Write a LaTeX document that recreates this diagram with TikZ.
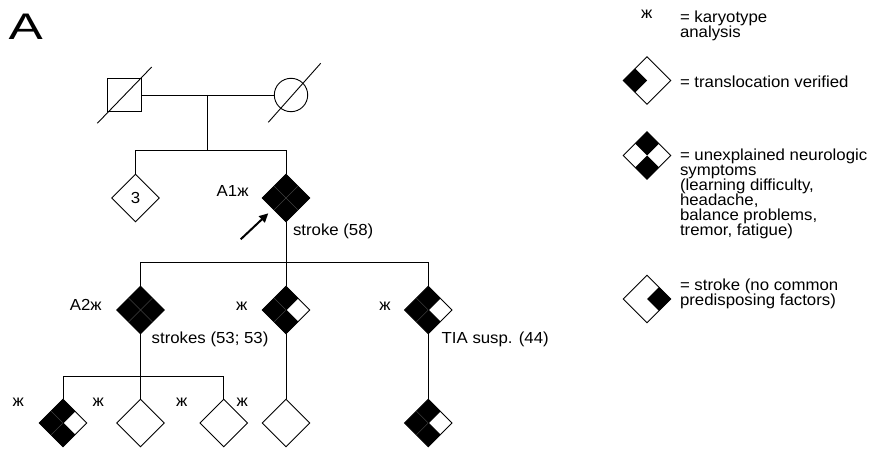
\documentclass[tikz,border=0pt]{standalone}
\usepackage{fontspec}
\setmainfont{Liberation Sans}[FakeStretch=1.05]
\usepackage{graphicx}
\usetikzlibrary{shapes.geometric,arrows.meta}
\newcommand\ptext{\fontsize{16}{15}\selectfont}
\newcommand\pqT[1]{\fill (#1.north) -- (#1.north east) -- (#1.center) -- (#1.north west) -- cycle;}
\newcommand\pqR[1]{\fill (#1.east) -- (#1.south east) -- (#1.center) -- (#1.north east) -- cycle;}
\newcommand\pqB[1]{\fill (#1.south) -- (#1.south west) -- (#1.center) -- (#1.south east) -- cycle;}
\newcommand\pqL[1]{\fill (#1.west) -- (#1.north west) -- (#1.center) -- (#1.south west) -- cycle;}
\newcommand\pqX[1]{\draw[divider] (#1.north west) -- (#1.south east) (#1.north east) -- (#1.south west);}
\newcommand\pqW[1]{\draw[pline] (#1.north east) -- (#1.center) -- (#1.south east);}
\newcommand\pqTBL[1]{\pqT{#1}\pqB{#1}\pqL{#1}\pqX{#1}\pqW{#1}}
\newcommand\pqAll[1]{\pqT{#1}\pqB{#1}\pqL{#1}\pqR{#1}\pqX{#1}}
\tikzset{
  pline/.style={line width=0.9pt, draw=black},
  pdiam/.style={diamond, draw, pline, minimum width=47.6pt, minimum height=47.6pt,
    inner sep=0pt, outer sep=0pt, font=\ptext},
  divider/.style={line width=0.6pt, draw=black!78},
  lbl/.style={font=\ptext, inner sep=0pt, outer sep=0pt},
}
\begin{document}
\begin{tikzpicture}[x=1pt,y=-1pt]
\useasboundingbox (0,0) rectangle (888,449);

% panel letter
\node[anchor=south west, inner sep=0pt, font=\fontsize{37}{37}\selectfont] (panel) at (8.5,39.3) {\scalebox{1.32}[1]{A}};

% parents
\node[rectangle, draw, pline, minimum size=33.6pt, inner sep=0pt, outer sep=0pt] (fa) at (124.5,95) {};
\node[circle, draw, pline, minimum size=33.4pt, inner sep=0pt, outer sep=0pt] (mo) at (291,95) {};
\draw[pline] ([shift={(-27.2,28.3)}]fa.center) -- ([shift={(27.2,-28)}]fa.center);
\draw[pline] ([shift={(-22.7,27.3)}]mo.center) -- ([shift={(29.7,-31.7)}]mo.center);
\draw[pline] (fa.east) -- (mo.west);
\coordinate (m1) at (207.3,95);
\coordinate (s1) at (207.3,150);
\draw[pline] (m1) -- (s1);

% generation II
\node[pdiam] (d3) at (135.5,198) {3};
\node[pdiam] (A1) at (286,198) {};
\pqAll{A1}
\draw[pline] (d3.north) -- (d3.north |- s1) -- (A1.north |- s1) -- (A1.north);
\node[lbl, anchor=base east] (A1l) at (248.5,196.7) {A1ж};
\node[lbl, anchor=base west] (A1s) at (293,235.7) {stroke (58)};
\coordinate (ar0) at (240.7,239.3);
\coordinate (ar1) at (268.3,213.3);
\draw[line width=2pt, -{Triangle[length=9pt,width=8.5pt]}] (ar0) -- (ar1);

% generation III
\coordinate (s2) at (286,262.7);
\draw[pline] (A1.south) -- (s2);
\node[pdiam] (A2) at (140.5,310) {};
\node[pdiam] (C2) at (286,310) {};
\node[pdiam] (C3) at (428.3,310) {};
\pqAll{A2}
\pqTBL{C2}
\pqTBL{C3}
\draw[pline] (A2.north) -- (A2.north |- s2) -- (C3.north |- s2) -- (C3.north);
\draw[pline] (C2.north) -- (s2);
\node[lbl, anchor=base east] (A2l) at (101.7,310) {A2ж};
\node[lbl, anchor=base] (C2l) at (241.7,310) {ж};
\node[lbl, anchor=base] (C3l) at (385,310) {ж};
\node[lbl, anchor=base west] (A2s) at (151.7,343.5) {strokes (53; 53)};
\node[lbl, anchor=base west] (C3s) at (441.7,343.5) {TIA susp. (44)};

% generation IV
\coordinate (s3) at (140.5,376);
\draw[pline] (A2.south) -- (s3);
\node[pdiam] (G1) at (63,423) {};
\node[pdiam] (G2) at (140.5,423) {};
\node[pdiam] (G3) at (223.7,423) {};
\node[pdiam] (G4) at (286,423) {};
\node[pdiam] (G5) at (428.3,423) {};
\pqTBL{G1}
\pqTBL{G5}
\draw[pline] (G1.north) -- (G1.north |- s3) -- (G3.north |- s3) -- (G3.north);
\draw[pline] (G2.north) -- (s3);
\draw[pline] (C2.south) -- (G4.north);
\draw[pline] (C3.south) -- (G5.north);
\node[lbl, anchor=base] (G1l) at (18.3,406) {ж};
\node[lbl, anchor=base] (G2l) at (98.3,406) {ж};
\node[lbl, anchor=base] (G3l) at (181.7,406) {ж};
\node[lbl, anchor=base] (G4l) at (242.3,406) {ж};

% legend
\node[lbl, anchor=base] (kx) at (646.7,18.3) {ж};
\node[lbl, anchor=north west, align=left] (kt) at (680,10.5) {= karyotype\\analysis};
\node[pdiam] (L1) at (647,80.5) {};
\pqL{L1}
\node[lbl, anchor=base west] (L1t) at (680,87.3) {= translocation verified};
\node[pdiam] (L2) at (647,155.5) {};
\pqT{L2}\pqB{L2}
\node[lbl, anchor=north west, align=left] (L2t) at (680,148.5) {= unexplained neurologic\\symptoms\\(learning difficulty,\\headache,\\balance problems,\\tremor, fatigue)};
\node[pdiam] (L3) at (647,299) {};
\pqR{L3}
\node[lbl, anchor=north west, align=left] (L3t) at (680,279) {= stroke (no common\\predisposing factors)};
\end{tikzpicture}
\end{document}
